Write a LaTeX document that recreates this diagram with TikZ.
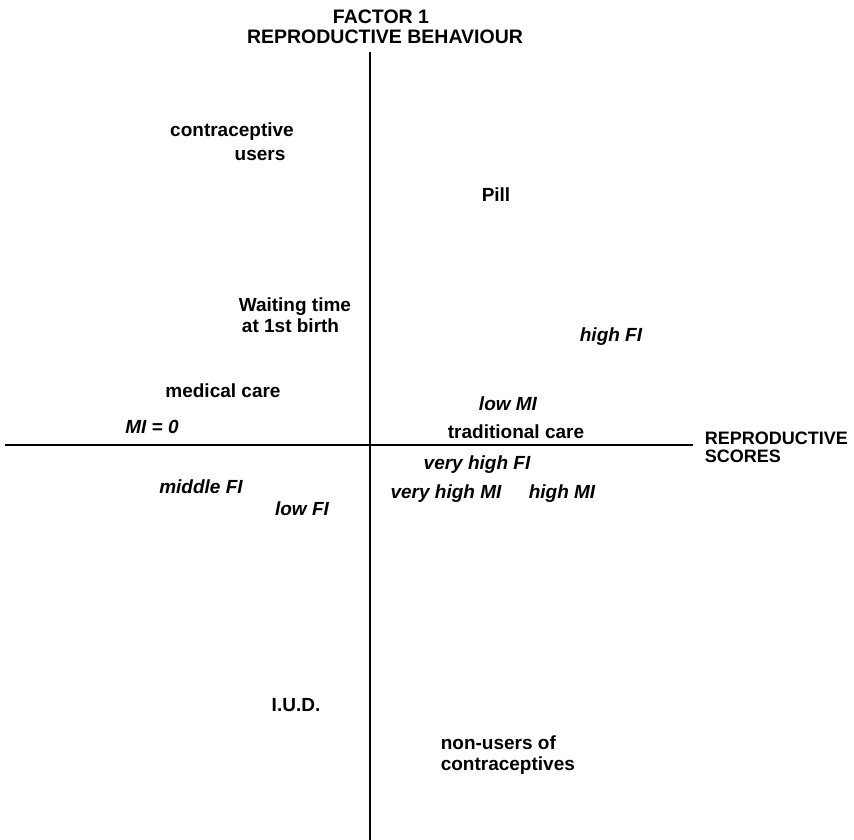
\documentclass[tikz,border=0pt]{standalone}
\usepackage{fontspec}
\setmainfont{Liberation Sans}
\usetikzlibrary{positioning}
\tikzset{every path/.style={black,line width=1.6pt},
  lbl/.style={inner sep=0pt,font=\fontsize{19}{21}\selectfont\bfseries},
  axislbl/.style={lbl,font=\fontsize{18}{17.5}\selectfont\bfseries},
  titlelbl/.style={lbl,font=\fontsize{19.5}{21}\selectfont\bfseries},
  var/.style={lbl,font=\fontsize{19}{21}\selectfont\bfseries\itshape}}

\begin{document}
\begin{tikzpicture}[x=1pt,y=-1pt]
  \useasboundingbox (0,0) rectangle (854,840);
  \node[titlelbl] (factor) at (381,17) {FACTOR 1};
  \node[titlelbl] (behav) at (385,37) {REPRODUCTIVE BEHAVIOUR};
  \node[axislbl,align=left,anchor=west] (scores) at (704,447.5) {REPRODUCTIVE\\SCORES};
  \coordinate (top) at (370,52);
  \coordinate (bottom) at (370,840);
  \coordinate (left) at (5,445);
  \coordinate (right) at (693,445);
  \draw (top) -- (bottom);
  \draw (left) -- (right);
  % methods and care
  \node[lbl] (contra) at (232,132) {contraceptive};
  \node[lbl] (users) at (260,155) {users};
  \node[lbl] (pill) at (496,195) {Pill};
  \node[lbl,align=left,anchor=west] (wait) at (238,315) {Waiting time\\\,at 1st birth};
  \node[lbl] (medical) at (223,391) {medical care};
  \node[lbl] (trad) at (516,432) {traditional care};
  \node[lbl] (iud) at (296,705) {I.U.D.};
  \node[lbl,align=left,anchor=west] (nonusers) at (440,755) {non-users of\\contraceptives};
  % indices
  \node[var] (highfi) at (611,337) {high FI};
  \node[var] (lowmi) at (508,404) {low MI};
  \node[var] (mizero) at (152,427) {MI = 0};
  \node[var] (vhighfi) at (477,465) {very high FI};
  \node[var] (vhighmi) at (446,494) {very high MI};
  \node[var] (highmi) at (562,494) {high MI};
  \node[var] (middlefi) at (201,487) {middle FI};
  \node[var] (lowfi) at (302,509) {low FI};
\end{tikzpicture}
\end{document}
